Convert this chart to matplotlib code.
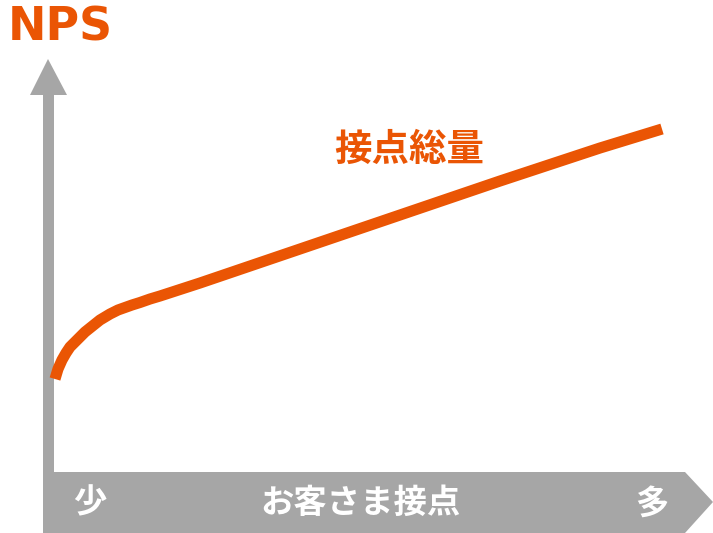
import matplotlib
matplotlib.use("Agg")
import matplotlib.pyplot as plt
from matplotlib.patches import Polygon

plt.rcParams['font.family'] = ['Noto Sans CJK JP', 'DejaVu Sans']

# curve (pixel coords, y down)
curve_x = [55, 58, 62, 66, 70, 75, 80, 85, 90, 95, 100, 105, 110, 118, 125,
           132, 140, 150, 160, 200, 300, 400, 500, 600, 662]
curve_y = [379, 369, 360, 353, 347, 342, 337, 332, 328, 324, 320, 317, 314, 310, 307.5,
           305, 302.5, 299, 296, 283, 249, 215, 181, 148, 129]

y_title = "NPS"
line_label = "接点総量"
x_title = "お客さま接点"
x_low = "少"
x_high = "多"

orange = "#EA5504"
gray = "#A6A6A6"

fig = plt.figure(figsize=(7.13, 5.33), dpi=100)
ax = fig.add_axes([0, 0, 1, 1])
ax.set_xlim(0, 713)
ax.set_ylim(533, 0)
ax.axis("off")

# vertical axis arrow
ax.add_patch(Polygon([(43, 472), (43, 95), (30, 95), (48, 59), (67, 95),
                      (54, 95), (54, 472)], closed=True, color=gray, lw=0))
# bottom band arrow
ax.add_patch(Polygon([(43, 472), (685, 472), (713, 502), (685, 533), (43, 533)],
                     closed=True, color=gray, lw=0))

ax.plot(curve_x, curve_y, color=orange, lw=8, solid_capstyle="butt",
        solid_joinstyle="round")

ax.text(8, 28, y_title, color=orange, fontsize=33, fontweight="bold",
        family="DejaVu Sans", ha="left", va="center")
ax.text(409, 149, line_label, color=orange, fontsize=27, fontweight="bold",
        ha="center", va="center")
ax.text(360, 503, x_title, color="white", fontsize=24, fontweight="bold",
        ha="center", va="center")
ax.text(90, 503, x_low, color="white", fontsize=24, fontweight="bold",
        ha="center", va="center")
ax.text(652, 504, x_high, color="white", fontsize=24, fontweight="bold",
        ha="center", va="center")

fig.savefig("out.png", dpi=100)
